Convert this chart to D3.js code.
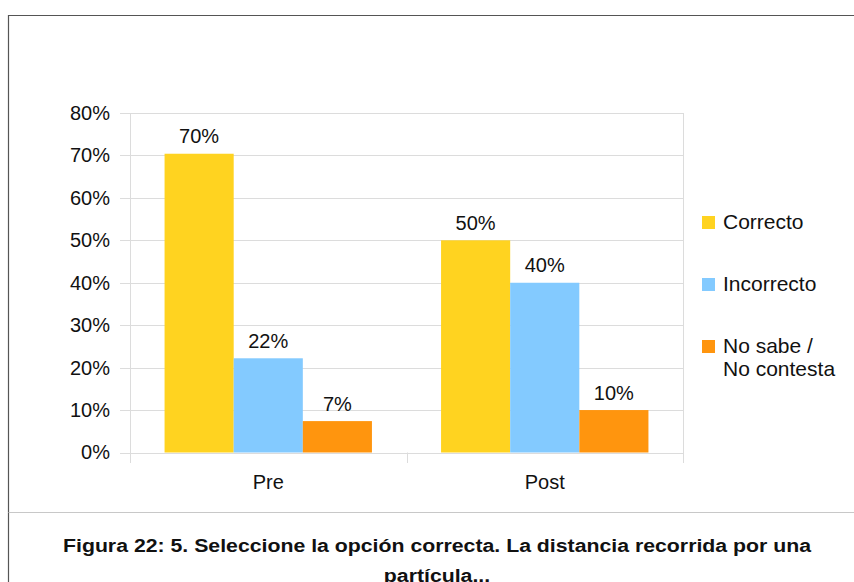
<!DOCTYPE html>
<meta charset="utf-8">
<style>
body {
    margin: 0;
    background: #fff;
}
svg {
    display: block;
    font-family: "Liberation Sans", Arial, sans-serif;
}
.grid line {
  stroke: #dcdcdc;
  stroke-width: 1px;
}
.tick text {
  fill: #111;
}
</style>
<svg width="854" height="582"></svg>
<script src="https://d3js.org/d3.v7.min.js"></script>
<script>
// data
var groups = ["Pre", "Post"];
var series = ["Correcto", "Incorrecto", "No sabe / No contesta"];
var legendLines = [["Correcto"], ["Incorrecto"], ["No sabe /", "No contesta"]];
var colors = ["#ffd320", "#83caff", "#ff950e"];
var preValues = [0.704, 0.222, 0.074];
var postValues = [0.50, 0.40, 0.10];
var yTicks = [0, 0.1, 0.2, 0.3, 0.4, 0.5, 0.6, 0.7, 0.8];
var captionLines = ["Figura 22: 5. Seleccione la opción correcta. La distancia recorrida por una", "partícula..."];

var values = {"Pre": preValues, "Post": postValues};

var svg = d3.select("svg");
var plot = {left: 130, right: 683, top: 113, bottom: 452.5};
var fmt = d3.format(".0%");

// frame
svg.append("line").attr("x1", 8.5).attr("x2", 854).attr("y1", 15.5).attr("y2", 15.5)
   .attr("stroke", "#555").attr("stroke-width", 1.2);
svg.append("line").attr("x1", 8.5).attr("x2", 8.5).attr("y1", 15).attr("y2", 582)
   .attr("stroke", "#555").attr("stroke-width", 1.2);
svg.append("line").attr("x1", 8.5).attr("x2", 854).attr("y1", 512.5).attr("y2", 512.5)
   .attr("stroke", "#c8c8c8").attr("stroke-width", 1);

var y = d3.scaleLinear().domain([0, 0.8]).range([plot.bottom, plot.top]);
var x0 = d3.scaleBand().domain(groups).range([plot.left, plot.right])
    .paddingInner(0.25).paddingOuter(0.125);
var x1 = d3.scaleBand().domain(series).range([0, x0.bandwidth()]);

// gridlines
var grid = svg.append("g").attr("class", "grid");
grid.selectAll("line.h").data(yTicks).enter().append("line")
    .attr("class", "h")
    .attr("x1", plot.left - 10).attr("x2", plot.right)
    .attr("y1", function(d){ return Math.round(y(d)) + 0.5; })
    .attr("y2", function(d){ return Math.round(y(d)) + 0.5; });
var step = x0.step();
grid.selectAll("line.v").data(d3.range(groups.length + 1)).enter().append("line")
    .attr("class", "v")
    .attr("x1", function(i){ return Math.round(plot.left + i * step) + 0.5; })
    .attr("x2", function(i){ return Math.round(plot.left + i * step) + 0.5; })
    .attr("y1", function(i){ return (i == 0 || i == groups.length) ? plot.top : plot.bottom; })
    .attr("y2", plot.bottom + 10.5);

// y axis labels
var yAxis = d3.axisLeft(y).tickValues(yTicks).tickFormat(fmt).tickSize(0).tickPadding(20);
var ya = svg.append("g").attr("transform", "translate(" + plot.left + ",0)").call(yAxis);
ya.select(".domain").remove();
ya.selectAll("text").style("font-size", "20px");

// x axis labels
var xAxis = d3.axisBottom(x0).tickSize(0).tickPadding(22);
var xa = svg.append("g").attr("transform", "translate(0," + plot.bottom + ")").call(xAxis);
xa.select(".domain").remove();
xa.selectAll("text").style("font-size", "20px");

// bars
var g = svg.append("g").selectAll("g").data(groups).enter().append("g")
    .attr("transform", function(d){ return "translate(" + x0(d) + ",0)"; });

g.selectAll("rect").data(function(d){ return series.map(function(s, i){ return {s: s, i: i, v: values[d][i]}; }); })
  .enter().append("rect")
    .attr("x", function(d){ return x1(d.s); })
    .attr("width", x1.bandwidth())
    .attr("y", function(d){ return y(d.v); })
    .attr("height", function(d){ return plot.bottom - y(d.v); })
    .attr("fill", function(d){ return colors[d.i]; });

g.selectAll("text.lbl").data(function(d){ return series.map(function(s, i){ return {s: s, i: i, v: values[d][i]}; }); })
  .enter().append("text")
    .attr("class", "lbl")
    .attr("x", function(d){ return x1(d.s) + x1.bandwidth() / 2; })
    .attr("y", function(d){ return y(d.v) - 10.5; })
    .attr("text-anchor", "middle")
    .style("font-size", "20px")
    .attr("fill", "#111")
    .text(function(d){ return fmt(d.v); });

// legend
var legend = svg.append("g").selectAll("g").data(series).enter().append("g")
    .attr("transform", function(d, i){ return "translate(702," + (216 + i * 62) + ")"; });
legend.append("rect").attr("width", 13).attr("height", 13)
    .attr("fill", function(d, i){ return colors[i]; });
legend.append("text")
    .attr("x", 21).attr("y", 12.5)
    .style("font-size", "21px")
    .attr("fill", "#111")
    .selectAll("tspan").data(function(d, i){ return legendLines[i]; }).enter().append("tspan")
    .attr("x", 21).attr("dy", function(d, j){ return j == 0 ? 0 : 23; })
    .text(function(d){ return d; });

// caption
svg.append("g").selectAll("text").data(captionLines).enter().append("text")
    .attr("transform", function(d, i){ return "translate(437," + (552 + i * 30) + ") scale(1.12,1)"; })
    .attr("text-anchor", "middle")
    .style("font-size", "19px")
    .style("font-weight", "bold")
    .attr("fill", "#111")
    .text(function(d){ return d; });
</script>
